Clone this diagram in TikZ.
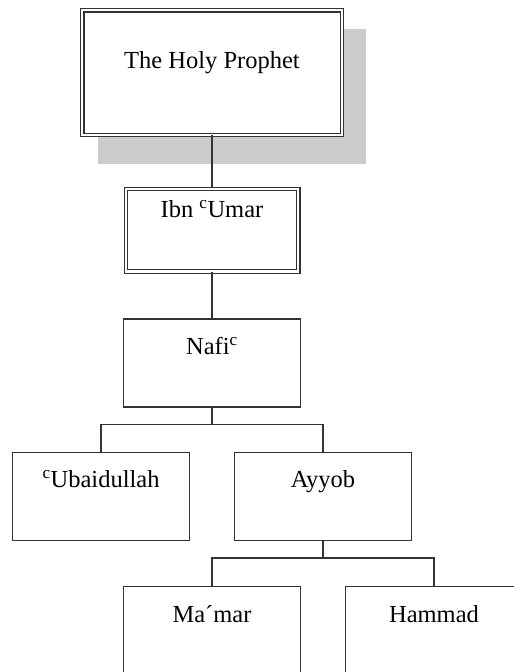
\documentclass[tikz,border=0pt]{standalone}
\usepackage{fontspec}
\setmainfont{Liberation Serif}
\usetikzlibrary{positioning,backgrounds}
\newcommand{\ayn}{\textsuperscript{c}}

\begin{document}
\begin{tikzpicture}[
x=1pt, y=1pt,
node distance=45pt,
pessoa/.style={
rectangle,
draw=black!80,
fill=white,
line width=1.3pt,
align=center,
minimum width=177pt,
inner ysep=0pt,
text height=35.5pt,
text depth=52.5pt,
font=\fontsize{24.5}{28}\selectfont
},
mestre/.style={
pessoa,
double,
line width=1.1pt,
double distance=2.3pt,
minimum width=172.5pt
},
ligacao/.style={draw=black!80, line width=1.3pt}
]

\useasboundingbox (0,0) rectangle (514,-672);
\clip (0,0) rectangle (514,-672);

\node[mestre, minimum width=259.5pt, text height=58pt, text depth=66.5pt] (profeta) at (212,-72.5) {The Holy Prophet};

\node[mestre, below=53pt of profeta, text height=28.75pt, text depth=53.75pt] (ibnumar) {Ibn \ayn Umar};

\node[pessoa, below=46.5pt of ibnumar] (nafi) {Nafi\ayn};

\node[pessoa, below=44pt of nafi, xshift=-111pt] (ubaid) {\ayn Ubaidullah};
\node[pessoa, below=44pt of nafi, xshift=111pt] (ayyob) {Ayyob};

\node[pessoa, below=45pt of ayyob, xshift=-111pt] (mamar) {Ma´mar};
\node[pessoa, below=45pt of ayyob, xshift=111pt] (hammad) {Hammad};

\begin{scope}[on background layer]
\fill[black!20] ([shift={(16pt,-19pt)}]profeta.north west) rectangle ([shift={(24pt,-29pt)}]profeta.south east);
\end{scope}

\draw[ligacao] (profeta.south) -- (ibnumar.north);
\draw[ligacao] (ibnumar.south) -- (nafi.north);

\draw[ligacao] (nafi.south) -- ++(0,-16.5pt) -| (ubaid.north);
\draw[ligacao] (nafi.south) -- ++(0,-16.5pt) -| (ayyob.north);

\draw[ligacao] (ayyob.south) -- ++(0,-17pt) -| (mamar.north);
\draw[ligacao] (ayyob.south) -- ++(0,-17pt) -| (hammad.north);

\end{tikzpicture}
\end{document}
